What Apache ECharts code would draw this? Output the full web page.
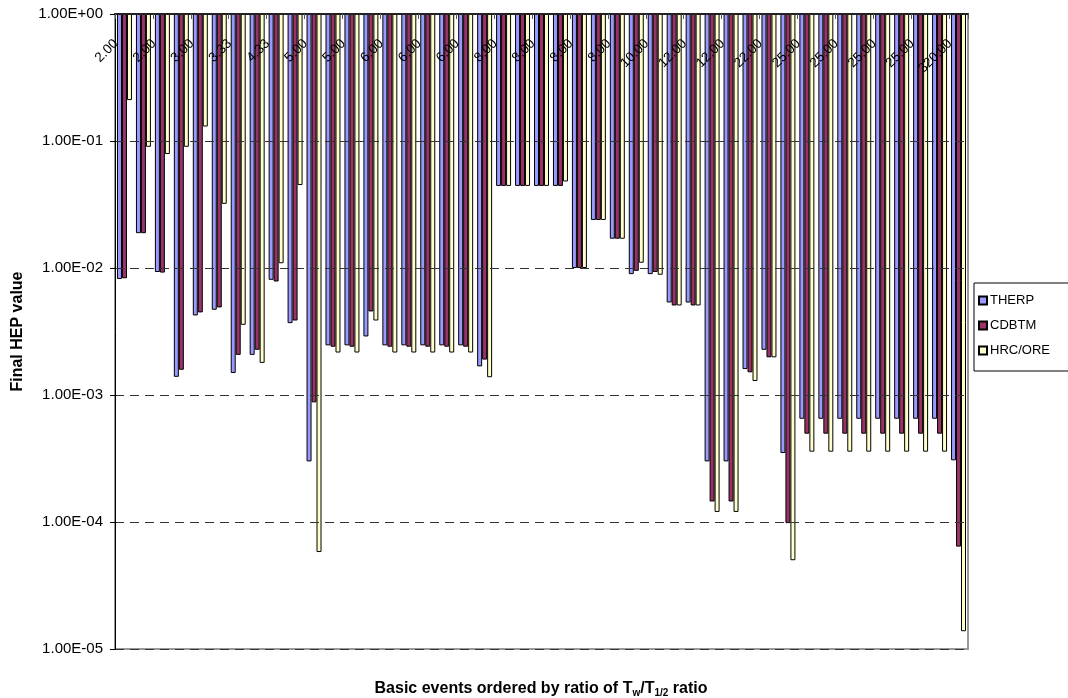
<!DOCTYPE html>
<html>
<head>
<meta charset="utf-8">
<script src="https://cdn.jsdelivr.net/npm/echarts@6/dist/echarts.min.js"></script>
<style>
  html, body { margin: 0; padding: 0; background: #ffffff; }
  #chart { width: 1068px; height: 698px; }
</style>
</head>
<body>
<div id="chart"></div>
<script>
// Basic events, ordered by the Tw/T1/2 ratio (category labels)
const ratios = [
  '2.00', '2.00', '2.00', '3.00', '3.00', '3.33', '3.33', '4.00', '4.33', '5.00',
  '5.00', '5.00', '5.00', '6.00', '6.00', '6.00', '6.00', '6.00', '6.00', '7.00',
  '8.00', '8.00', '8.00', '8.00', '8.00', '8.00', '8.00', '10.00', '10.00', '12.00',
  '12.00', '12.00', '12.00', '20.00', '22.00', '25.00', '25.00', '25.00', '25.00', '25.00',
  '25.00', '25.00', '25.00', '25.00', '320.00'
];

// Final human error probability per method
const therp = [
  8.2e-3, 1.88e-2, 9.3e-3, 1.39e-3, 4.23e-3, 4.69e-3, 1.49e-3, 2.07e-3, 8.07e-3, 3.68e-3,
  3.0e-4, 2.46e-3, 2.46e-3, 2.89e-3, 2.46e-3, 2.46e-3, 2.46e-3, 2.46e-3, 2.46e-3, 1.68e-3,
  4.43e-2, 4.43e-2, 4.43e-2, 4.43e-2, 1.0e-2, 2.39e-2, 1.7e-2, 8.95e-3, 8.95e-3, 5.35e-3,
  5.35e-3, 3.0e-4, 3.0e-4, 1.6e-3, 2.27e-3, 3.49e-4, 6.5e-4, 6.5e-4, 6.5e-4, 6.5e-4,
  6.5e-4, 6.5e-4, 6.5e-4, 6.5e-4, 3.06e-4
];
const cdbtm = [
  8.3e-3, 1.88e-2, 9.2e-3, 1.58e-3, 4.47e-3, 4.89e-3, 2.07e-3, 2.27e-3, 7.83e-3, 3.86e-3,
  8.75e-4, 2.4e-3, 2.4e-3, 4.55e-3, 2.4e-3, 2.4e-3, 2.4e-3, 2.4e-3, 2.4e-3, 1.9e-3,
  4.43e-2, 4.43e-2, 4.43e-2, 4.43e-2, 1.0e-2, 2.39e-2, 1.7e-2, 9.5e-3, 9.3e-3, 5.07e-3,
  5.07e-3, 1.45e-4, 1.45e-4, 1.51e-3, 1.98e-3, 9.8e-5, 4.96e-4, 4.96e-4, 4.96e-4, 4.96e-4,
  4.96e-4, 4.96e-4, 4.96e-4, 4.96e-4, 6.4e-5
];
const hrcOre = [
  0.21, 0.090, 0.079, 0.090, 0.13, 0.032, 3.57e-3, 1.79e-3, 1.09e-2, 0.045,
  5.8e-5, 2.16e-3, 2.16e-3, 3.86e-3, 2.16e-3, 2.16e-3, 2.16e-3, 2.16e-3, 2.16e-3, 1.38e-3,
  4.43e-2, 4.43e-2, 4.43e-2, 4.8e-2, 1.0e-2, 2.39e-2, 1.7e-2, 1.1e-2, 8.85e-3, 5.07e-3,
  5.07e-3, 1.2e-4, 1.2e-4, 1.29e-3, 1.98e-3, 5.0e-5, 3.58e-4, 3.58e-4, 3.58e-4, 3.58e-4,
  3.58e-4, 3.58e-4, 3.58e-4, 3.58e-4, 1.38e-5
];

const seriesNames = ['THERP', 'CDBTM', 'HRC/ORE'];
const seriesColors = ['#9999FF', '#993366', '#FFFFCC'];
const seriesData = [therp, cdbtm, hrcOre];

const FONT = '"Liberation Sans", Arial, sans-serif';

// 1.00E-03 style tick text
function sciLabel(v) {
  const e = Math.round(Math.log10(v));
  return '1.00E' + (e < 0 ? '-' : '+') + String(Math.abs(e)).padStart(2, '0');
}

const chart = echarts.init(document.getElementById('chart'), null, { renderer: 'canvas' });

chart.setOption({
  animation: false,
  backgroundColor: '#ffffff',
  textStyle: { fontFamily: FONT },
  grid: {
    left: 115, top: 14, right: 100, bottom: 49,
    show: true, borderColor: '#999999', borderWidth: 2, backgroundColor: '#ffffff'
  },
  title: {
    text: '{b|Basic events ordered by ratio of T}{s|w}{b|/T}{s|1/2}{b| ratio}',
    left: 541, top: 680, textAlign: 'center',
    padding: 0,
    textStyle: {
      rich: {
        b: { fontFamily: FONT, fontSize: 16, fontWeight: 'bold', color: '#000', lineHeight: 18 },
        s: { fontFamily: FONT, fontSize: 10, fontWeight: 'bold', color: '#000', lineHeight: 11, verticalAlign: 'bottom' }
      }
    }
  },
  legend: {
    orient: 'vertical',
    left: 974, top: 283,
    itemWidth: 8, itemHeight: 8, itemGap: 12,
    icon: 'rect',
    borderColor: '#000', borderWidth: 1,
    padding: [11, 30, 14, 4],
    textStyle: { fontFamily: FONT, fontSize: 13, color: '#000', padding: [0, 0, 0, -2] },
    data: seriesNames
  },
  xAxis: {
    type: 'category',
    position: 'top',
    data: ratios,
    z: 5,
    axisLine: { show: true, lineStyle: { color: '#222', width: 2 } },
    axisTick: { show: true, inside: true, length: 5, lineStyle: { color: '#555' } },
    axisLabel: {
      inside: true, rotate: -45, interval: 1, margin: 19,
      padding: [0, 12, 0, 0],
      fontFamily: FONT, fontSize: 13.5, color: '#000'
    },
    splitLine: { show: false }
  },
  yAxis: {
    type: 'log',
    logBase: 10,
    min: 1e-5, max: 1,
    z: 5,
    name: 'Final HEP value',
    nameLocation: 'middle',
    nameRotate: 90,
    nameGap: 89,
    nameTextStyle: { fontFamily: FONT, fontSize: 16, fontWeight: 'bold', color: '#000' },
    axisLine: { show: true, lineStyle: { color: '#000', width: 1 } },
    axisTick: { show: true, inside: false, length: 5, lineStyle: { color: '#000' } },
    axisLabel: {
      formatter: sciLabel, margin: 12,
      fontFamily: FONT, fontSize: 15, color: '#000'
    },
    splitLine: { show: true, lineStyle: { color: '#333', width: 1, type: [9, 6] } },
    minorTick: { show: false }
  },
  series: seriesNames.map((name, i) => ({
    name,
    type: 'bar',
    data: seriesData[i],
    barGap: '0%',
    barCategoryGap: '21%',
    itemStyle: { color: seriesColors[i], borderColor: '#000', borderWidth: 1 }
  }))
});
</script>
</body>
</html>
